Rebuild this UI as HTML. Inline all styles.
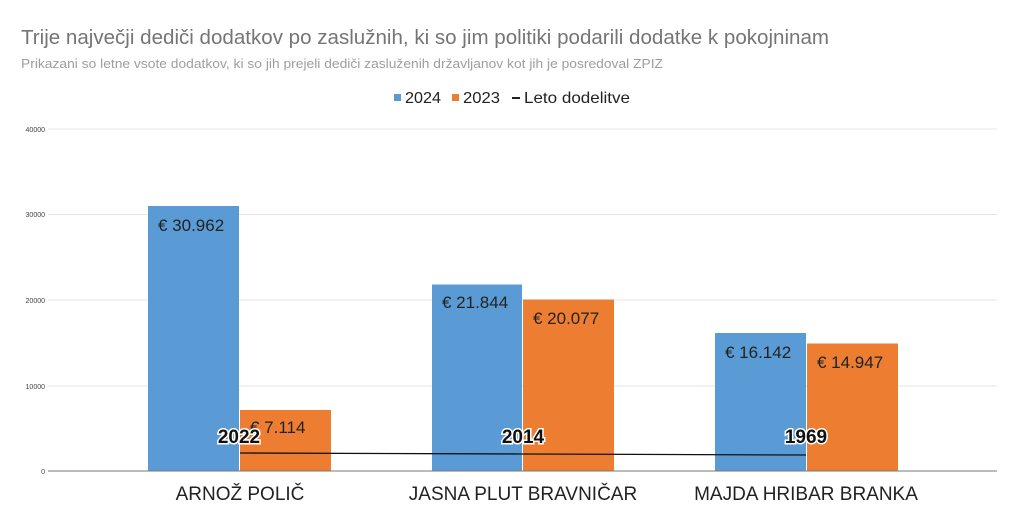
<!DOCTYPE html>
<html><head><meta charset="utf-8"><style>
html,body{margin:0;padding:0;background:#fff;width:1024px;height:531px;overflow:hidden}
svg{display:block}
text{font-family:"Liberation Sans",sans-serif}
</style></head><body>
<svg width="1024" height="531" xmlns="http://www.w3.org/2000/svg">
<text x="21" y="44" font-size="20" fill="#757575" textLength="808" lengthAdjust="spacingAndGlyphs">Trije največji dediči dodatkov po zaslužnih, ki so jim politiki podarili dodatke k pokojninam</text>
<text x="21" y="68" font-size="13" fill="#9e9e9e" textLength="642" lengthAdjust="spacingAndGlyphs">Prikazani so letne vsote dodatkov, ki so jih prejeli dediči zasluženih državljanov kot jih je posredoval ZPIZ</text>
<rect x="394" y="94" width="7" height="7" fill="#5b9bd5"/>
<text x="405" y="103" font-size="16" fill="#222" textLength="36" lengthAdjust="spacingAndGlyphs">2024</text>
<rect x="452" y="94" width="7" height="7" fill="#ed7d31"/>
<text x="463" y="103" font-size="16" fill="#222" textLength="37" lengthAdjust="spacingAndGlyphs">2023</text>
<rect x="512" y="97" width="8" height="2" fill="#222"/>
<text x="524" y="103" font-size="16" fill="#222" textLength="106" lengthAdjust="spacingAndGlyphs">Leto dodelitve</text>
<g stroke="#e6e6e6" stroke-width="1">
<line x1="48" y1="129" x2="997" y2="129"/>
<line x1="48" y1="214.5" x2="997" y2="214.5"/>
<line x1="48" y1="300" x2="997" y2="300"/>
<line x1="48" y1="386" x2="997" y2="386"/>
</g>
<g font-size="7" fill="#444" text-anchor="end">
<text x="45" y="132">40000</text>
<text x="45" y="217">30000</text>
<text x="45" y="303">20000</text>
<text x="45" y="389">10000</text>
<text x="45" y="474">0</text>
</g>
<rect x="148" y="206" width="91" height="265" fill="#5b9bd5"/>
<rect x="240" y="410" width="91" height="61" fill="#ed7d31"/>
<rect x="432" y="284.5" width="90" height="186.5" fill="#5b9bd5"/>
<rect x="523" y="299.5" width="91" height="171.5" fill="#ed7d31"/>
<rect x="715" y="333" width="91" height="138" fill="#5b9bd5"/>
<rect x="807" y="343.5" width="91" height="127.5" fill="#ed7d31"/>
<line x1="48" y1="471" x2="997" y2="471" stroke="#777" stroke-width="1"/>
<g font-size="17" fill="#222">
<text x="158" y="231">€ 30.962</text>
<text x="250" y="433">€ 7.114</text>
<text x="442" y="308">€ 21.844</text>
<text x="533" y="324">€ 20.077</text>
<text x="725" y="358">€ 16.142</text>
<text x="817" y="368">€ 14.947</text>
</g>
<polyline points="240,453 523,454 806,455" fill="none" stroke="#111" stroke-width="1.3"/>
<g font-size="19" font-weight="bold" fill="#111" stroke="#fff" stroke-width="3" paint-order="stroke" text-anchor="middle">
<text x="239" y="443">2022</text>
<text x="523" y="443">2014</text>
<text x="806" y="443">1969</text>
</g>
<g font-size="19" fill="#222" text-anchor="middle">
<text x="240" y="500">ARNOŽ POLIČ</text>
<text x="523" y="500">JASNA PLUT BRAVNIČAR</text>
<text x="806" y="500">MAJDA HRIBAR BRANKA</text>
</g>
</svg>
</body></html>
